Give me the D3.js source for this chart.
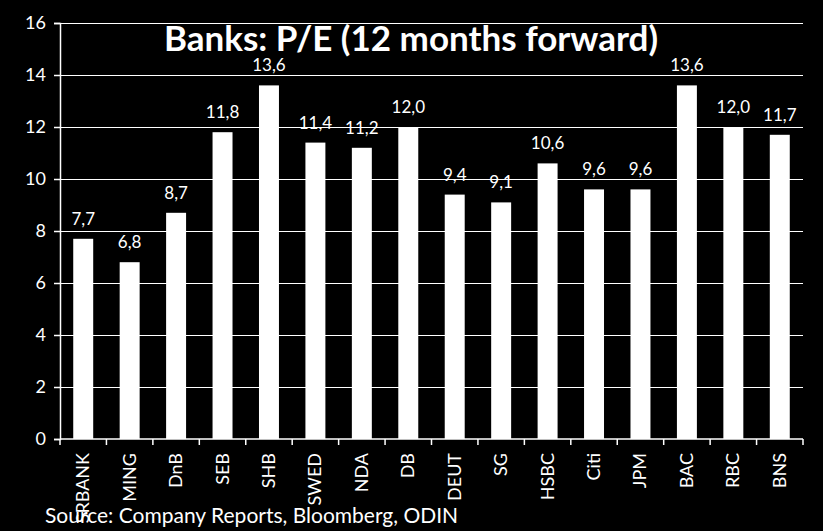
<!DOCTYPE html>
<html>
<head>
<meta charset="utf-8">
<script src="https://cdn.jsdelivr.net/npm/d3@7"></script>
<style>
  body { margin: 0; background: #000; }
  text { font-family: Lato, "Open Sans", sans-serif; fill: #fff; }
</style>
</head>
<body>
<div id="chart-area"></div>
<script>
const banks = ["SRBANK", "MING", "DnB", "SEB", "SHB", "SWED", "NDA", "DB",
               "DEUT", "SG", "HSBC", "Citi", "JPM", "BAC", "RBC", "BNS"]
const pe = [7.7, 6.8, 8.7, 11.8, 13.6, 11.4, 11.2, 12.0,
            9.4, 9.1, 10.6, 9.6, 9.6, 13.6, 12.0, 11.7]
const yTicks = [0, 2, 4, 6, 8, 10, 12, 14, 16]

const MARGIN = { LEFT: 60, RIGHT: 20, TOP: 23, BOTTOM: 92 }
const WIDTH = 823 - MARGIN.LEFT - MARGIN.RIGHT
const HEIGHT = 531 - MARGIN.TOP - MARGIN.BOTTOM

const svg = d3.select("#chart-area").append("svg")
  .attr("width", 823)
  .attr("height", 531)

svg.append("rect").attr("width", 823).attr("height", 531).attr("fill", "#000")

const g = svg.append("g")
  .attr("transform", `translate(${MARGIN.LEFT}, ${MARGIN.TOP})`)

const x = d3.scaleBand().domain(banks).range([0, WIDTH]).paddingInner(0.57).paddingOuter(0.285)
const y = d3.scaleLinear().domain([0, 16]).range([HEIGHT, 0])

// gridlines
g.selectAll(".grid")
  .data(yTicks.filter(d => d > 0))
  .enter().append("line")
  .attr("x1", 0).attr("x2", WIDTH)
  .attr("y1", d => y(d) + 0.5).attr("y2", d => y(d) + 0.5)
  .attr("stroke", "#fff").attr("stroke-width", 1)

// y axis
const yAxis = g.append("g")
  .call(d3.axisLeft(y).tickValues(yTicks).tickSize(6).tickPadding(8))
yAxis.selectAll("path, line").attr("stroke", "#fff").attr("stroke-width", 1.5)
yAxis.selectAll("text").attr("font-size", 18).attr("font-family", "Lato, sans-serif").attr("fill", "#fff")

// bars
g.selectAll(".bar")
  .data(pe)
  .enter().append("rect")
  .attr("x", (d, i) => x(banks[i]))
  .attr("y", d => y(d))
  .attr("width", x.bandwidth())
  .attr("height", d => HEIGHT - y(d))
  .attr("fill", "#fff")

// value labels
g.selectAll(".val")
  .data(pe)
  .enter().append("text")
  .attr("x", (d, i) => x(banks[i]) + x.bandwidth() / 2)
  .attr("y", d => y(d) - 14)
  .attr("text-anchor", "middle")
  .attr("font-size", 17)
  .text(d => d.toFixed(1).replace(".", ","))

// x axis
const step = x.step()
const xAxis = g.append("g").attr("transform", `translate(0, ${HEIGHT})`)
xAxis.append("line").attr("x1", 0).attr("x2", WIDTH).attr("stroke", "#fff").attr("stroke-width", 1.5)
xAxis.selectAll(".tick")
  .data(d3.range(banks.length + 1))
  .enter().append("line")
  .attr("x1", i => i * step).attr("x2", i => i * step)
  .attr("y1", 0).attr("y2", 6)
  .attr("stroke", "#fff").attr("stroke-width", 1.5)
xAxis.selectAll(".lbl")
  .data(banks)
  .enter().append("text")
  .attr("transform", d => `translate(${x(d) + x.bandwidth() / 2 + 6}, 14) rotate(-90)`)
  .attr("text-anchor", "end")
  .attr("font-size", 18)
  .text(d => d)

// title
svg.append("text")
  .attr("x", 411).attr("y", 51)
  .attr("text-anchor", "middle")
  .attr("font-size", 35)
  .attr("font-weight", "bold")
  .text("Banks: P/E (12 months forward)")

// source
svg.append("text")
  .attr("x", 45).attr("y", 523)
  .attr("font-size", 21)
  .text("Source: Company Reports, Bloomberg, ODIN")
</script>
</body>
</html>
